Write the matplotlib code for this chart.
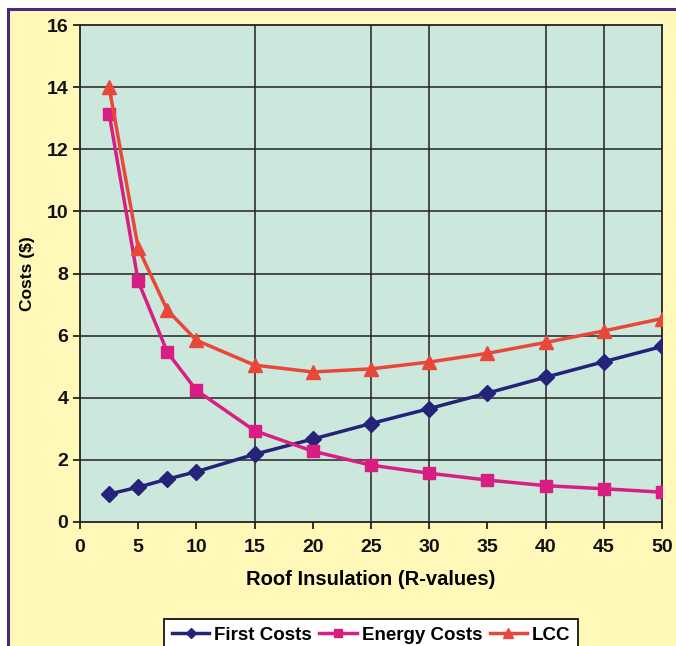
import matplotlib.pyplot as plt
from matplotlib.patches import Rectangle

r_values = [2.5, 5, 7.5, 10, 15, 20, 25, 30, 35, 40, 45, 50]
first_costs = [0.9, 1.12, 1.38, 1.62, 2.18, 2.67, 3.17, 3.65, 4.15, 4.66, 5.16, 5.65]
energy_costs = [13.15, 7.75, 5.47, 4.24, 2.94, 2.28, 1.83, 1.57, 1.35, 1.17, 1.07, 0.96]
lcc = [14.0, 8.82, 6.82, 5.85, 5.05, 4.83, 4.93, 5.15, 5.43, 5.78, 6.15, 6.55]
x_grid = [15, 25, 30, 40, 45]


def main():
    plt.rcParams['font.family'] = ['Liberation Sans', 'DejaVu Sans']
    plt.rcParams['font.weight'] = 'bold'

    fig = plt.figure(figsize=(6.76, 6.46), dpi=100, facecolor='white')
    # yellow panel with purple frame
    fig.patches.append(Rectangle((8 / 676, -0.1), 1.2, 1.1 - 9 / 646,
                                 transform=fig.transFigure, facecolor='#FFF8B8',
                                 edgecolor='#4B2A7E', linewidth=2.2, zorder=-5))

    ax = fig.add_axes([80 / 676, 1 - 522 / 646, 582 / 676, 497 / 646])
    ax.set_facecolor('#CCE7DB')

    for y in range(2, 16, 2):
        ax.axhline(y, color='#222222', lw=1.1, zorder=1)
    for x in x_grid:
        ax.axvline(x, color='#222222', lw=1.1, zorder=1)

    ax.plot(r_values, first_costs, color='#23237A', marker='D', ms=8, lw=2.5,
            label='First Costs', zorder=3)
    ax.plot(r_values, energy_costs, color='#D81E83', marker='s', ms=8, lw=2.5,
            label='Energy Costs', zorder=3)
    ax.plot(r_values, lcc, color='#E8473A', marker='^', ms=9.5, lw=2.5,
            label='LCC', zorder=3)

    ax.set_xlim(0, 50)
    ax.set_ylim(0, 16)
    ax.set_xticks(range(0, 51, 5))
    ax.set_yticks(range(0, 17, 2))
    ax.tick_params(labelsize=14, width=1.2, length=5, colors='#111111')
    ax.tick_params(axis='x', pad=7)
    for s in ax.spines.values():
        s.set_color('#222222')
        s.set_linewidth(1.3)

    ax.set_xlabel('Roof Insulation (R-values)', fontsize=14.5, fontweight='bold', labelpad=10)
    ax.set_ylabel('Costs ($)', fontsize=12.5, fontweight='bold', labelpad=8)

    leg = fig.legend(loc='upper center', bbox_to_anchor=(0.549, 1 - 610 / 646), ncol=3,
                     frameon=True, fancybox=False, edgecolor='black', facecolor='white',
                     fontsize=13.5, handlelength=2.0, handletextpad=0.25, columnspacing=0.4,
                     borderpad=0.4, markerscale=0.7)
    leg.get_frame().set_linewidth(1.2)
    leg.get_frame().set_alpha(1)

    plt.savefig('out.png', dpi=100, facecolor=fig.get_facecolor())


if __name__ == "__main__":
    main()
